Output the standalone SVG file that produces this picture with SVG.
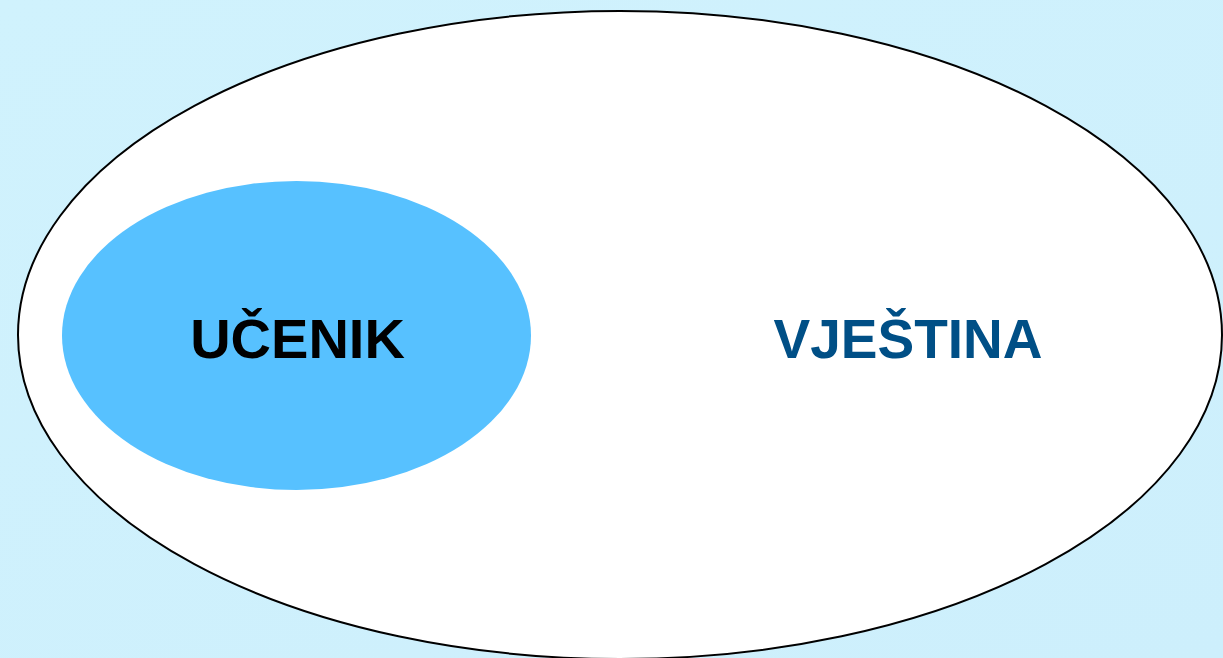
<svg xmlns="http://www.w3.org/2000/svg" width="1223" height="658" viewBox="0 0 1223 658">
<style>
.lbl{font-family:"Liberation Sans",Arial,sans-serif;font-weight:bold;text-anchor:middle}
</style>
<defs>
<linearGradient id="bg" x1="0" y1="0" x2="1" y2="1">
<stop offset="0" stop-color="#d0f2fd"/>
<stop offset="1" stop-color="#cdeffc"/>
</linearGradient>
</defs>
<rect width="1223" height="658" fill="url(#bg)"/>
<g id="vjestina">
<ellipse cx="620" cy="335" rx="602" ry="324" fill="#ffffff" stroke="#000000" stroke-width="2"/>
<text class="lbl" x="908" y="358" font-size="55" fill="#004f86">VJEŠTINA</text>
</g>
<g id="ucenik">
<ellipse cx="296.5" cy="335.5" rx="234.5" ry="154.5" fill="#57c1ff"/>
<text class="lbl" x="297.5" y="358" font-size="56" fill="#000000">UČENIK</text>
</g>
<g id="connectors"/>
</svg>
